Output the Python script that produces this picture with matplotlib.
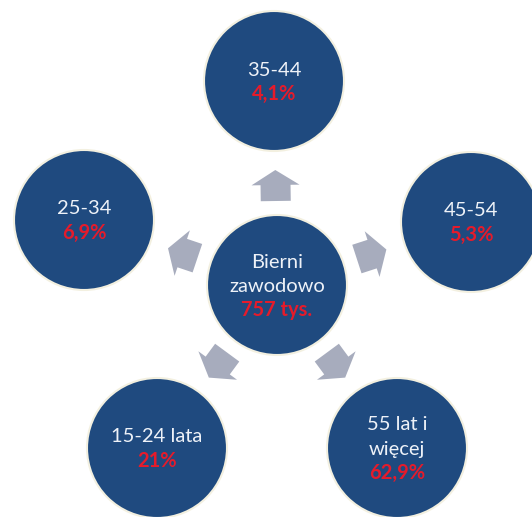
import numpy as np
import matplotlib.pyplot as plt
from matplotlib.patches import Circle, Polygon

# data
center_label = "Bierni\nzawodowo"
center_value = "757 tys."
groups = ["35-44", "45-54", "55 lat i\nwięcej", "15-24 lata", "25-34"]
shares = ["4,1%", "5,3%", "62,9%", "21%", "6,9%"]

# layout (pixels, y down)
W, H = 532, 517
center_xy = (277, 285)
outer_xy = [(274, 81), (471, 222), (397, 448), (157, 448), (84, 220)]
R = 70
BLUE = "#1f4a7f"
EDGE = "#f3f0e0"
RED = "#e51b2b"
WHITE = "#eef2f8"
ARROW = "#a7acbd"
FONT = ["Lato", "DejaVu Sans"]

fig = plt.figure(figsize=(W / 100, H / 100), dpi=100)
ax = fig.add_axes([0, 0, 1, 1])
ax.set_xlim(0, W)
ax.set_ylim(H, 0)
ax.set_aspect("equal")
ax.axis("off")


def bubble(xy, label, value):
    ax.add_patch(Circle(xy, R, facecolor=BLUE, edgecolor=EDGE, lw=1.5, zorder=2))
    lines = label.split("\n")
    n = len(lines) + 1
    step = 24
    y0 = xy[1] + 1 - step * (n - 1) / 2
    for i, ln in enumerate(lines):
        ax.text(xy[0], y0 + i * step, ln, color=WHITE, fontsize=14.5,
                ha="center", va="center", family=FONT, zorder=3)
    ax.text(xy[0], y0 + (n - 1) * step, value, color=RED, fontsize=14.5,
            fontweight="bold", ha="center", va="center", family=FONT, zorder=3)


def arrow(p0, p1, dist=100):
    d = np.array(p1, float) - np.array(p0, float)
    u = d / np.hypot(*d)
    v = np.array([-u[1], u[0]])
    c = np.array(p0, float) + u * dist
    # house-shaped block arrow in local (along, across) coords
    shape = [(-16, -15), (0, -15), (0, -24), (15, 0), (0, 24), (0, 15), (-16, 15)]
    pts = [c + a * u + b * v for a, b in shape]
    ax.add_patch(Polygon(pts, closed=True, facecolor=ARROW, edgecolor="none", zorder=1))


for xy in outer_xy:
    arrow(center_xy, xy)

bubble(center_xy, center_label, center_value)
for xy, g, s in zip(outer_xy, groups, shares):
    bubble(xy, g, s)

fig.savefig("out.png", dpi=100, facecolor="white")
